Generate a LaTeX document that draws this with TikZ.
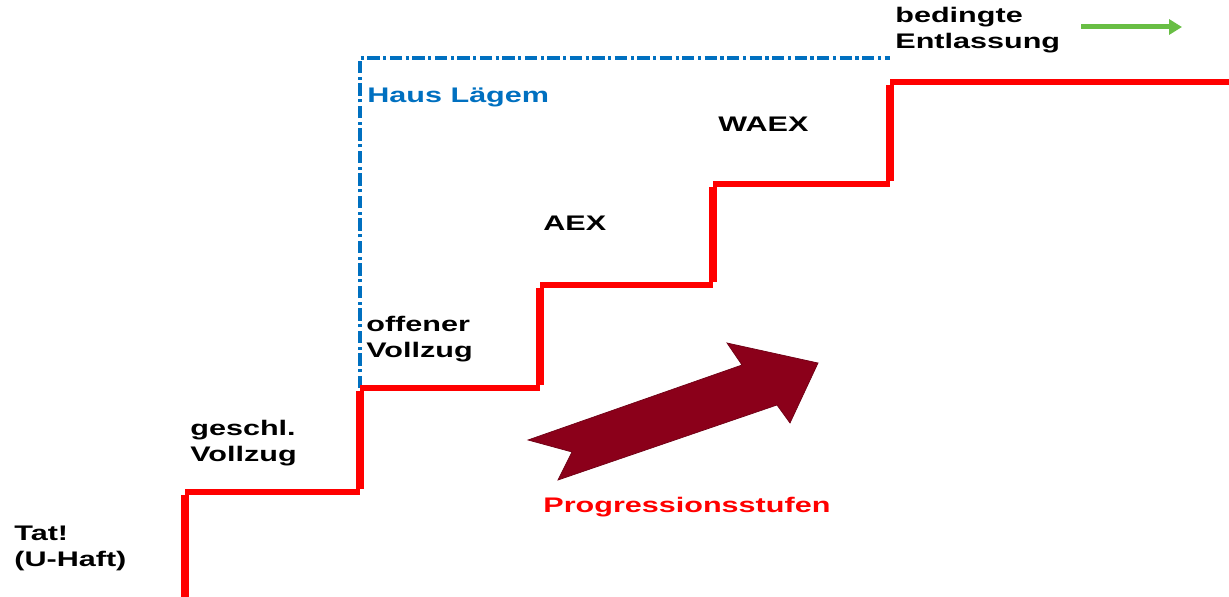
\documentclass[tikz,border=0pt]{standalone}
\usepackage{fontspec}
\setmainfont{Liberation Sans}[FakeStretch=1.45]
\usetikzlibrary{arrows.meta,positioning,calc}
\definecolor{stepred}{RGB}{255,0,0}
\definecolor{hausblue}{RGB}{0,112,192}
\definecolor{darkred}{RGB}{139,0,26}
\definecolor{exitgreen}{RGB}{104,190,68}

\begin{document}
\begin{tikzpicture}[x=0.02cm, y=-0.02cm,
		stage/.style={anchor=west, align=left, inner sep=0pt, font=\bfseries\fontsize{12}{14.8}\selectfont},
		riser/.style={stepred, line width=0.15cm},
		tread/.style={stepred, line width=0.115cm}]
		\useasboundingbox (0,0) rectangle (1229,597);
		
		% Stufen
		\coordinate (s0) at (185,597);
		\coordinate (s1) at (185,492);
		\coordinate (s2) at (360,492);
		\coordinate (s3) at (360,388);
		\coordinate (s4) at (540,388);
		\coordinate (s5) at (540,285);
		\coordinate (s6) at (713,285);
		\coordinate (s7) at (713,184);
		\coordinate (s8) at (890,184);
		\coordinate (s9) at (890,82);
		\coordinate (s10) at (1229,82);
		
		% Haus Laegem
		\coordinate (h1) at (360,58);
		\coordinate (h2) at (890,58);
		\draw[hausblue, line width=0.07cm, dash pattern=on 7pt off 2pt on 1.8pt off 2pt] (s3) -- (h1) -- (h2);
		
		\draw[riser] (s0) -- ([yshift=-0.057cm]s1);
		\draw[tread] (s1) -- (s2);
		\draw[riser] ([yshift=0.057cm]s2) -- ([yshift=-0.057cm]s3);
		\draw[tread] (s3) -- (s4);
		\draw[riser] ([yshift=0.057cm]s4) -- ([yshift=-0.057cm]s5);
		\draw[tread] (s5) -- (s6);
		\draw[riser] ([yshift=0.057cm]s6) -- ([yshift=-0.057cm]s7);
		\draw[tread] (s7) -- (s8);
		\draw[riser] ([yshift=0.057cm]s8) -- ([yshift=-0.057cm]s9);
		\draw[tread] (s9) -- (s10);
		
		\node[stage] (tat) at (14,548) {Tat!\\(U-Haft)};
		\node[stage] (geschl) at (190,443) {geschl.\\Vollzug};
		\node[stage] (offen) at (366,339) {offener\\Vollzug};
		\node[stage] (aex) at (543,223) {AEX};
		\node[stage] (waex) at (718,124) {WAEX};
		\node[stage, text=hausblue] (haus) at (367,97) {Haus Lägem};
		\node[stage] (bed) at (895,30) {bedingte\\Entlassung};
		\node[stage, text=stepred] (prog) at (543,507) {Progressionsstufen};
		
		% Pfeile
		\coordinate (g1) at (1081,27);
		\coordinate (g2) at (1182,27);
		\draw[exitgreen, line width=0.1cm, -{Triangle[length=0.26cm, width=0.3cm]}] (g1) -- (g2);
		
		\fill[darkred, draw=darkred!80!black, line width=0.4pt] (528,440) -- (742,365) -- (727,343) -- (818,363) -- (790,423) -- (777,405) -- (558,480) -- (572,452) -- cycle;
	\end{tikzpicture}
\end{document}
